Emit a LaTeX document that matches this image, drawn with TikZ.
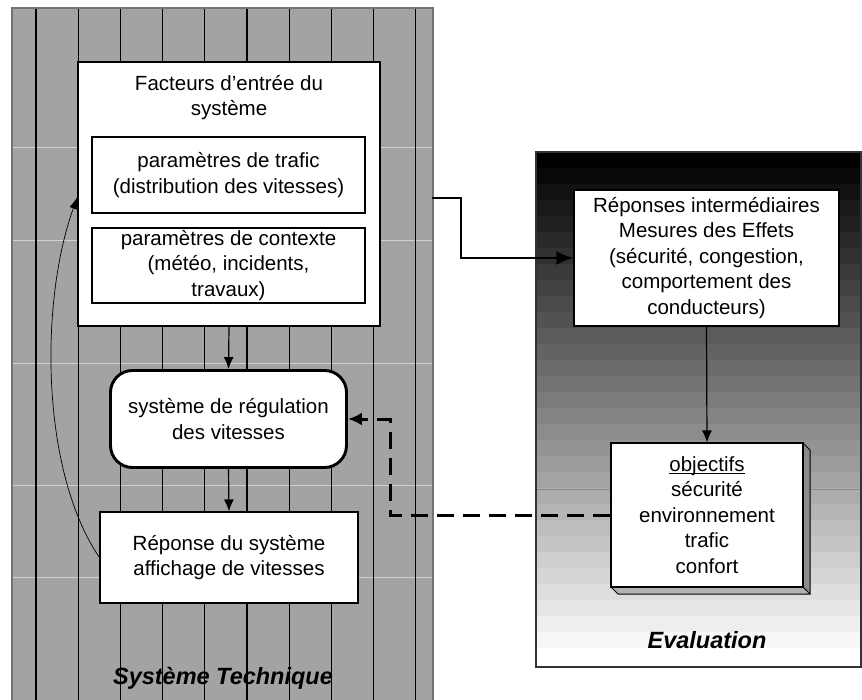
\documentclass[tikz,border=0pt]{standalone}
\usepackage{fontspec}
\setmainfont{Liberation Sans}
\usetikzlibrary{arrows.meta}
\newcommand{\myul}[1]{{\setbox0\hbox{#1}\rlap{\rule[-2.6pt]{\wd0}{0.9pt}}\box0}}
\begin{document}
\begin{tikzpicture}[x=1pt,y=-1pt,
  txt/.style={font=\fontsize{20.5}{25.5}\selectfont, align=center, inner sep=0pt},
  box/.style={draw=black, line width=1.1pt, fill=white, inner sep=0pt},
  thinarrow/.style={line width=1.2pt, -{Latex[length=12pt,width=10pt]}},
  ttl/.style={font=\fontsize{23.5}{26}\selectfont\bfseries\itshape, inner sep=0pt}]
\useasboundingbox (0,0) rectangle (862,700);
% left panel
\fill[black!36] (12,8) rectangle (433,702);
\foreach \y in {147,240,363,485,577} \draw[white, line width=0.8pt, opacity=0.5] (12,\y) -- (433,\y);
\foreach \k in {0,...,9} \draw[black, line width=1.1pt] (36+42.2*\k,8) -- (36+42.2*\k,702);
\draw[black!55, line width=1.1pt] (12,702) -- (12,8) -- (433,8) -- (433,702);
% right panel (banded gradient)
\foreach \i in {0,...,31} {
  \pgfmathsetmacro{\lev}{max(0,100-100*\i/31)}
  \fill[black!\lev] (536,152+16*\i) rectangle (861,152+16*\i+16.2);
}
\fill[white] (536,664) rectangle (861,667);
\draw[black!45, line width=0.8pt] (536,489) -- (861,489);
\draw[black!80, line width=1.1pt] (536,152) rectangle (861,667);
% nodes left
\node[box, minimum width=302pt, minimum height=264pt] (fact) at (229,194) {};
\node[txt] (facttitle) at (229,97.5) {Facteurs d'entrée du\\système};
\node[box, minimum width=273pt, minimum height=76pt, txt] (traf) at (228.5,175) {paramètres de trafic\\(distribution des vitesses)};
\node[box, minimum width=273pt, minimum height=75pt, txt] (ctx) at (228.5,265.5) {paramètres de contexte\\(météo, incidents,\\travaux)};
\node[box, line width=2.9pt, rounded corners=22pt, minimum width=236pt, minimum height=97pt, txt] (reg) at (228.5,419) {système de régulation\\des vitesses};
\node[box, minimum width=258pt, minimum height=91pt, txt] (resp) at (229,557.5) {Réponse du système\\affichage de vitesses};
\node[ttl] (tech) at (223,678) {Système Technique};
% nodes right
\node[box, minimum width=265pt, minimum height=136pt, txt] (rep) at (706.5,258) {Réponses intermédiaires\\Mesures des Effets\\(sécurité, congestion,\\comportement des\\conducteurs)};
\fill[black!45] (803,443) -- (810,450) -- (810,594) -- (803,587) -- cycle;
\fill[black!30] (611,587) -- (803,587) -- (810,594) -- (618,594) -- cycle;
\draw[black, line width=1pt] (803,443) -- (810,450) -- (810,594) -- (618,594) -- (611,587);
\draw[black, line width=0.8pt] (803,587) -- (810,594);
\node[box, minimum width=192pt, minimum height=144pt, txt] (obj) at (707,515) {\myul{objectifs}\\sécurité\\environnement\\trafic\\confort};
\node[ttl] (eval) at (707,640) {Evaluation};
% connectors
\coordinate (fstart) at (432,198);
\draw[line width=2.8pt, -{Latex[length=17pt,width=14pt]}] (fstart) -- (461,198) |- (rep.west);
\draw[thinarrow] (fact.south) -- (reg.north);
\draw[thinarrow] (reg.south) -- (resp.north);
\draw[thinarrow] (rep.south) -- (obj.north);
\draw[line width=3pt, dash pattern=on 17pt off 9pt, -{Latex[length=14pt,width=13pt]}] (obj.west) -- (390,515) |- (reg.east);
\draw[line width=0.7pt, -{Latex[length=12pt,width=8pt]}] (resp.west) .. controls (40,470) and (40,300) .. (fact.west |- 0,197);
\end{tikzpicture}
\end{document}
